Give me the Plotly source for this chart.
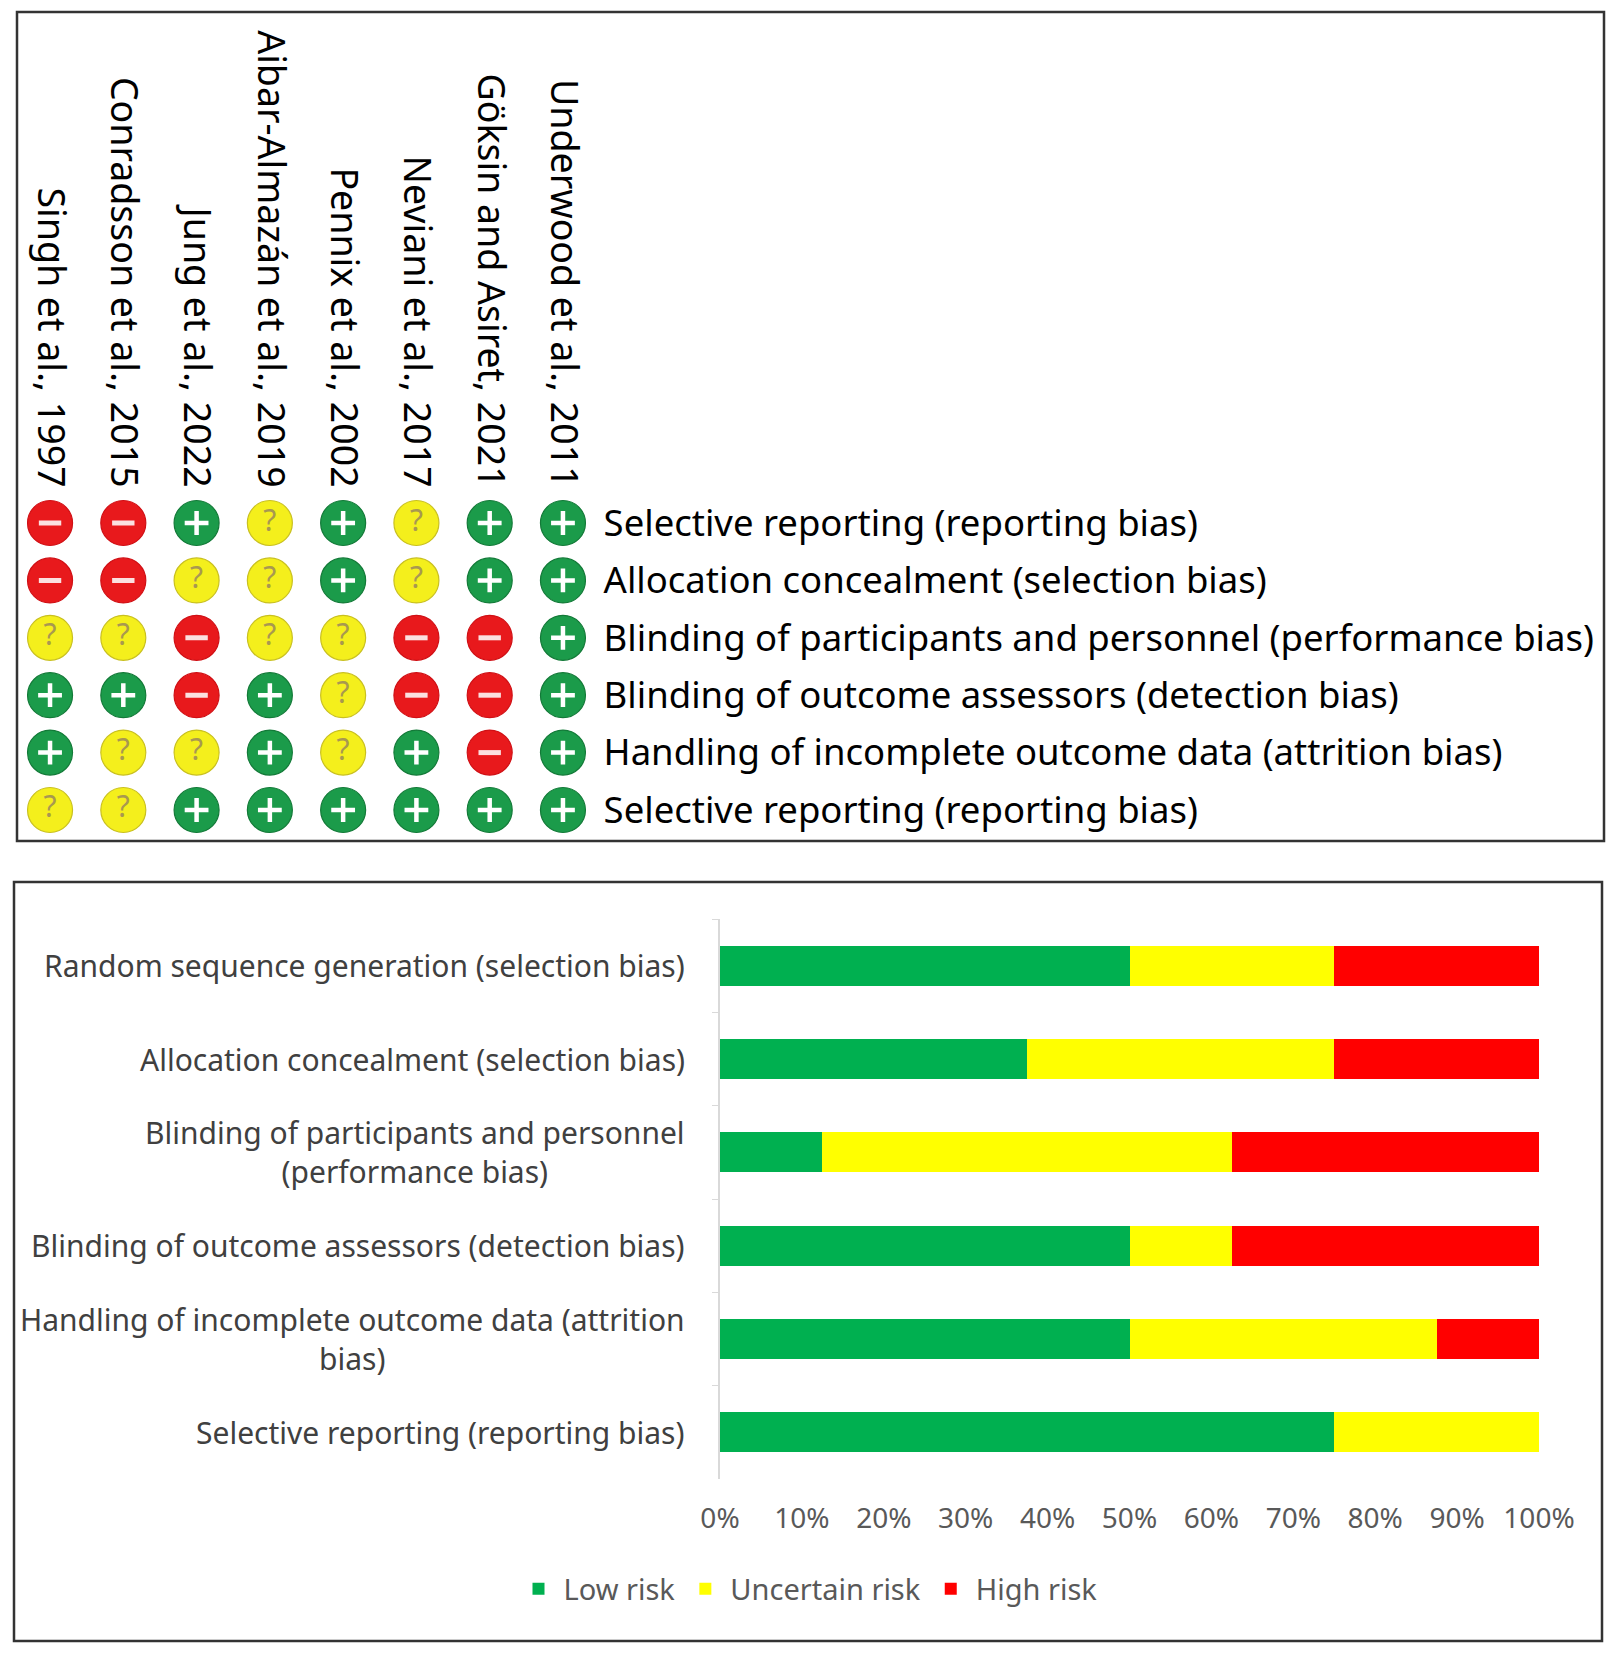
import plotly.graph_objects as go

# risk of bias summary (top) and graph (bottom)
studies = ["Singh et al., 1997", "Conradsson et al., 2015", "Jung et al., 2022",
           "Aibar-Almazán et al., 2019", "Pennix et al., 2002", "Neviani et al., 2017",
           "Göksin and Asiret, 2021", "Underwood et al., 2011"]

domains = ["Selective reporting (reporting bias)",
           "Allocation concealment (selection bias)",
           "Blinding of participants and personnel (performance bias)",
           "Blinding of outcome assessors (detection bias)",
           "Handling of incomplete outcome data (attrition bias)",
           "Selective reporting (reporting bias)"]

# one row per domain, one entry per study
judgements = [
    ["-", "-", "+", "?", "+", "?", "+", "+"],
    ["-", "-", "?", "?", "+", "?", "+", "+"],
    ["?", "?", "-", "?", "?", "-", "-", "+"],
    ["+", "+", "-", "+", "?", "-", "-", "+"],
    ["+", "?", "?", "+", "?", "+", "-", "+"],
    ["?", "?", "+", "+", "+", "+", "+", "+"],
]

bar_categories = ["Random sequence generation (selection bias)",
                  "Allocation concealment (selection bias)",
                  "Blinding of participants and personnel (performance bias)",
                  "Blinding of outcome assessors (detection bias)",
                  "Handling of incomplete outcome data (attrition bias)",
                  "Selective reporting (reporting bias)"]
bar_labels = ["Random sequence generation (selection bias)",
              "Allocation concealment (selection bias)",
              "Blinding of participants and personnel<br>(performance bias)",
              "Blinding of outcome assessors (detection bias)",
              "Handling of incomplete outcome data (attrition<br>bias)",
              "Selective reporting (reporting bias)"]
low_risk = [50, 37.5, 12.5, 50, 50, 75]
uncertain_risk = [25, 37.5, 50, 12.5, 37.5, 25]
high_risk = [25, 25, 37.5, 37.5, 12.5, 0]

pct_ticks = [0, 10, 20, 30, 40, 50, 60, 70, 80, 90, 100]
pct_labels = ["0%", "10%", "20%", "30%", "40%", "50%", "60%", "70%", "80%", "90%", "100%"]

W, H = 1616, 1654
FONT = "Noto Sans"

def px_x(v):
    return v / W

def px_y(v):
    return (H - v) / H

circle_fill = {"+": "#1b9b4a", "-": "#e8191c", "?": "#f4ef1c"}
circle_edge = {"+": "#137a38", "-": "#d01015", "?": "#c9c020"}

fig = go.Figure()

for kind in ["+", "-", "?"]:
    xs, ys = [], []
    for r, row in enumerate(judgements):
        for c, j in enumerate(row):
            if j == kind:
                xs.append(c)
                ys.append(r)
    fig.add_trace(go.Scatter(x=xs, y=ys, mode="markers", showlegend=False, hoverinfo="skip",
                             marker=dict(size=45, color=circle_fill[kind],
                                         line=dict(color=circle_edge[kind], width=1.2)),
                             xaxis="x", yaxis="y"))
    if kind == "+":
        fig.add_trace(go.Scatter(x=xs, y=ys, mode="markers", showlegend=False, hoverinfo="skip",
                                 marker=dict(symbol="cross-thin", size=17,
                                             line=dict(color="white", width=4.5)),
                                 xaxis="x", yaxis="y"))
    elif kind == "-":
        fig.add_trace(go.Scatter(x=xs, y=ys, mode="markers", showlegend=False, hoverinfo="skip",
                                 marker=dict(symbol="line-ew", size=16,
                                             line=dict(color="#fbe0e0", width=5)),
                                 xaxis="x", yaxis="y"))
    else:
        fig.add_trace(go.Scatter(x=xs, y=ys, mode="text", text=["?"] * len(xs), showlegend=False,
                                 hoverinfo="skip", textposition="middle center",
                                 textfont=dict(family=FONT, size=30, color="#a89850"),
                                 xaxis="x", yaxis="y"))

# bottom stacked bars
for name, vals, col in [("Low risk", low_risk, "#00b050"),
                        ("Uncertain risk", uncertain_risk, "#ffff00"),
                        ("High risk", high_risk, "#ff0000")]:
    fig.add_trace(go.Bar(y=bar_categories, x=vals, name=name, orientation="h",
                         marker=dict(color=col, line=dict(width=0)),
                         xaxis="x2", yaxis="y2"))

annotations = []
for cat, lab in zip(bar_categories, bar_labels):
    annotations.append(dict(x=px_x(687), xref="paper", y=cat, yref="y2", text=lab,
                            showarrow=False, xanchor="right", yanchor="middle", align="center",
                            font=dict(family=FONT, size=30, color="#404040")))

shapes = [
    dict(type="rect", xref="paper", yref="paper", x0=px_x(17), x1=px_x(1604),
         y0=px_y(841), y1=px_y(12), line=dict(color="#333333", width=2.5)),
    dict(type="rect", xref="paper", yref="paper", x0=px_x(14), x1=px_x(1602),
         y0=px_y(1641), y1=px_y(882), line=dict(color="#333333", width=2.5)),
]

fig.update_layout(
    width=W, height=H, template="none",
    margin=dict(l=0, r=0, t=0, b=0),
    paper_bgcolor="white", plot_bgcolor="white",
    font=dict(family=FONT),
    barmode="stack", bargap=0.57,
    xaxis=dict(domain=[px_x(13.4), px_x(599.6)], range=[-0.5, 7.5], side="top", anchor="y",
               tickmode="array", tickvals=list(range(len(studies))), ticktext=studies,
               tickangle=90, tickfont=dict(family=FONT, size=37.5, color="black"),
               showgrid=False, zeroline=False, showline=False, ticks="", automargin=False),
    yaxis=dict(domain=[px_y(838.7), px_y(494.3)], range=[5.5, -0.5], side="right", anchor="x",
               tickmode="array", tickvals=list(range(len(domains))), ticktext=domains,
               tickfont=dict(family=FONT, size=36.5, color="black"), ticklabelstandoff=3,
               showgrid=False, zeroline=False, showline=False, ticks="", automargin=False),
    xaxis2=dict(domain=[px_x(720), px_x(1539)], range=[0, 100], anchor="y2",
                tickmode="array", tickvals=pct_ticks, ticktext=pct_labels,
                tickfont=dict(family=FONT, size=28, color="#595959"), ticklabelstandoff=20,
                showgrid=False, zeroline=False, showline=False, ticks="", automargin=False),
    yaxis2=dict(domain=[px_y(1479), px_y(919)], anchor="x2", type="category",
                categoryorder="array", categoryarray=bar_categories, autorange="reversed",
                showticklabels=False, showgrid=False, zeroline=False,
                showline=True, linecolor="#d9d9d9", linewidth=1.5,
                ticks="outside", tickson="boundaries", ticklen=6, tickcolor="#d9d9d9",
                automargin=False),
    legend=dict(orientation="h", x=0.5, xanchor="center", y=px_y(1589), yanchor="middle",
                font=dict(family=FONT, size=29, color="#595959"), traceorder="normal",
                itemwidth=40, bgcolor="rgba(0,0,0,0)"),
    annotations=annotations,
    shapes=shapes,
)

fig.write_html("out.html", config={"displayModeBar": False},
               post_script="document.body.style.margin='0';document.body.style.overflow='hidden';")
